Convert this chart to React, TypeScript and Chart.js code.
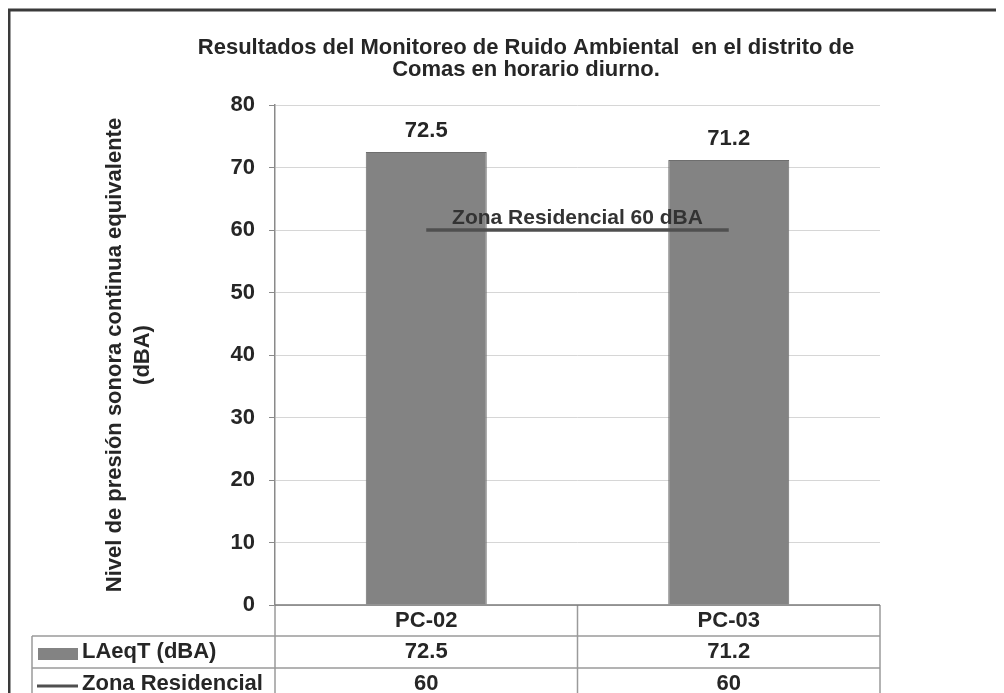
import React, { useEffect, useRef } from 'react';
import { Chart, registerables } from 'chart.js';

Chart.register(...registerables);

// ---- data ----
const categories = ['PC-02', 'PC-03'];
const laeqValues = [72.5, 71.2];
const zonaValues = [60, 60];
const seriesNames = ['LAeqT (dBA)', 'Zona Residencial'];
const yMin = 0;
const yMax = 80;
const yStep = 10;
const titleLines = ['Resultados del Monitoreo de Ruido Ambiental  en el distrito de', 'Comas en horario diurno.'];
const yTitleLines = ['Nivel de presión sonora continua equivalente', '(dBA)'];
const zonaLabel = 'Zona Residencial 60 dBA';

// ---- style ----
const W = 1036;
const H = 700;
const FAMILY = '"Liberation Sans", Arial, Helvetica, sans-serif';
const TEXT = '#262626';
const BAR = '#838383';
const BAR_EDGE = '#6e6e6e';
const LINE = '#4f4f4f';
const TABLE_LINE = '#9a9a9a';

const fmt = (v: number) => String(v);

const decor = {
  id: 'decor',
  beforeDraw(chart: any) {
    const ctx = chart.ctx;
    ctx.save();
    ctx.fillStyle = '#ffffff';
    ctx.fillRect(0, 0, chart.width, chart.height);
    ctx.restore();
  },
  afterDatasetsDraw(chart: any) {
    const ctx = chart.ctx;
    ctx.save();
    ctx.fillStyle = TEXT;
    ctx.textAlign = 'center';
    ctx.textBaseline = 'middle';
    ctx.font = `bold 22px ${FAMILY}`;
    const barMeta = chart.getDatasetMeta(0);
    barMeta.data.forEach((el: any, i: number) => {
      ctx.fillText(fmt(laeqValues[i]), el.x, el.y - 21);
    });
    const lineMeta = chart.getDatasetMeta(1);
    const pts = lineMeta.data;
    if (pts.length >= 2) {
      const mx = (pts[0].x + pts[pts.length - 1].x) / 2;
      const my = pts[0].y - 12;
      ctx.fillStyle = '#333333';
      ctx.font = `bold 21px ${FAMILY}`;
      ctx.fillText(zonaLabel, mx, my);
    }
    ctx.restore();
  },
  afterDraw(chart: any) {
    const ctx = chart.ctx;
    const { left, right, bottom } = chart.chartArea;
    const xs = chart.scales.x;
    ctx.save();

    // title
    ctx.fillStyle = TEXT;
    ctx.textAlign = 'center';
    ctx.textBaseline = 'middle';
    ctx.font = `bold 22px ${FAMILY}`;
    titleLines.forEach((t, i) => ctx.fillText(t, chart.width / 2, 40 + i * 22));

    // data table
    const r0 = bottom;
    const r1 = r0 + 31;
    const r2 = r1 + 32;
    const r3 = r2 + 32;
    const tableLeft = 24;
    ctx.strokeStyle = TABLE_LINE;
    ctx.lineWidth = 1.5;
    ctx.beginPath();
    [r1, r2, r3].forEach((y) => {
      ctx.moveTo(tableLeft, y);
      ctx.lineTo(right, y);
    });
    ctx.moveTo(tableLeft, r1);
    ctx.lineTo(tableLeft, r3 + 10);
    ctx.moveTo(left, r0);
    ctx.lineTo(left, r3 + 10);
    for (let i = 0; i < categories.length - 1; i++) {
      const bx = (xs.getPixelForValue(i) + xs.getPixelForValue(i + 1)) / 2;
      ctx.moveTo(bx, r0);
      ctx.lineTo(bx, r3 + 10);
    }
    ctx.moveTo(right, r0);
    ctx.lineTo(right, r3 + 10);
    ctx.stroke();

    // axis line
    ctx.strokeStyle = '#7a7a7a';
    ctx.lineWidth = 1.5;
    ctx.beginPath();
    ctx.moveTo(left, r0);
    ctx.lineTo(right, r0);
    ctx.stroke();

    ctx.fillStyle = TEXT;
    ctx.font = `bold 22px ${FAMILY}`;
    ctx.textAlign = 'center';
    categories.forEach((c, i) => {
      const x = xs.getPixelForValue(i);
      ctx.fillText(c, x, (r0 + r1) / 2);
      ctx.fillText(fmt(laeqValues[i]), x, (r1 + r2) / 2);
      ctx.fillText(fmt(zonaValues[i]), x, (r2 + r3) / 2);
    });

    // legend keys
    ctx.fillStyle = BAR;
    ctx.fillRect(30, r1 + 12, 40, 12);
    ctx.strokeStyle = LINE;
    ctx.lineWidth = 3;
    ctx.beginPath();
    ctx.moveTo(29, (r2 + r3) / 2 + 2);
    ctx.lineTo(70, (r2 + r3) / 2 + 2);
    ctx.stroke();
    ctx.fillStyle = TEXT;
    ctx.textAlign = 'left';
    ctx.fillText(seriesNames[0], 74, (r1 + r2) / 2);
    ctx.fillText(seriesNames[1], 74, (r2 + r3) / 2);

    // outer frame
    ctx.strokeStyle = '#3a3a3a';
    ctx.lineWidth = 3;
    ctx.strokeRect(1, 2, 2000, 2000);
    ctx.restore();
  },
};

export default function App() {
  const ref = useRef<HTMLCanvasElement>(null);
  useEffect(() => {
    if (!ref.current) return;
    const chart = new Chart(ref.current, {
      type: 'bar',
      data: {
        labels: categories,
        datasets: [
          {
            type: 'bar',
            label: seriesNames[0],
            data: laeqValues,
            backgroundColor: BAR,
            borderColor: BAR_EDGE,
            borderWidth: 1,
            barPercentage: 0.4,
            categoryPercentage: 1,
            order: 2,
          },
          {
            type: 'line',
            label: seriesNames[1],
            data: zonaValues,
            borderColor: LINE,
            borderWidth: 3.5,
            pointRadius: 0,
            fill: false,
            order: 1,
          } as any,
        ],
      },
      options: {
        responsive: false,
        animation: false,
        layout: { padding: { top: 97, left: 0, right: 164, bottom: 103 } },
        plugins: {
          legend: { display: false },
          tooltip: { enabled: false },
          title: { display: false },
        },
        scales: {
          x: { display: false },
          y: {
            min: yMin,
            max: yMax,
            ticks: {
              stepSize: yStep,
              padding: 14,
              color: TEXT,
              font: { family: FAMILY, size: 22, weight: 'bold' },
            },
            grid: { color: '#d6d6d6', tickLength: 6, tickColor: '#8a8a8a', lineWidth: 1 },
            border: { color: '#8a8a8a', width: 1.5 },
            title: {
              display: true,
              text: yTitleLines,
              color: TEXT,
              font: { family: FAMILY, size: 22, weight: 'bold', lineHeight: 28 / 22 },
              padding: { top: 93, bottom: 0 },
            },
            afterFit: (s: any) => {
              s.width = 267;
            },
          },
        },
      } as any,
      plugins: [decor],
    });
    return () => chart.destroy();
  }, []);
  return (
    <div style={{ width: 996, height: 685, overflow: 'hidden', background: '#fff' }}>
      <canvas ref={ref} width={W} height={H} style={{ display: 'block' }} />
    </div>
  );
}
